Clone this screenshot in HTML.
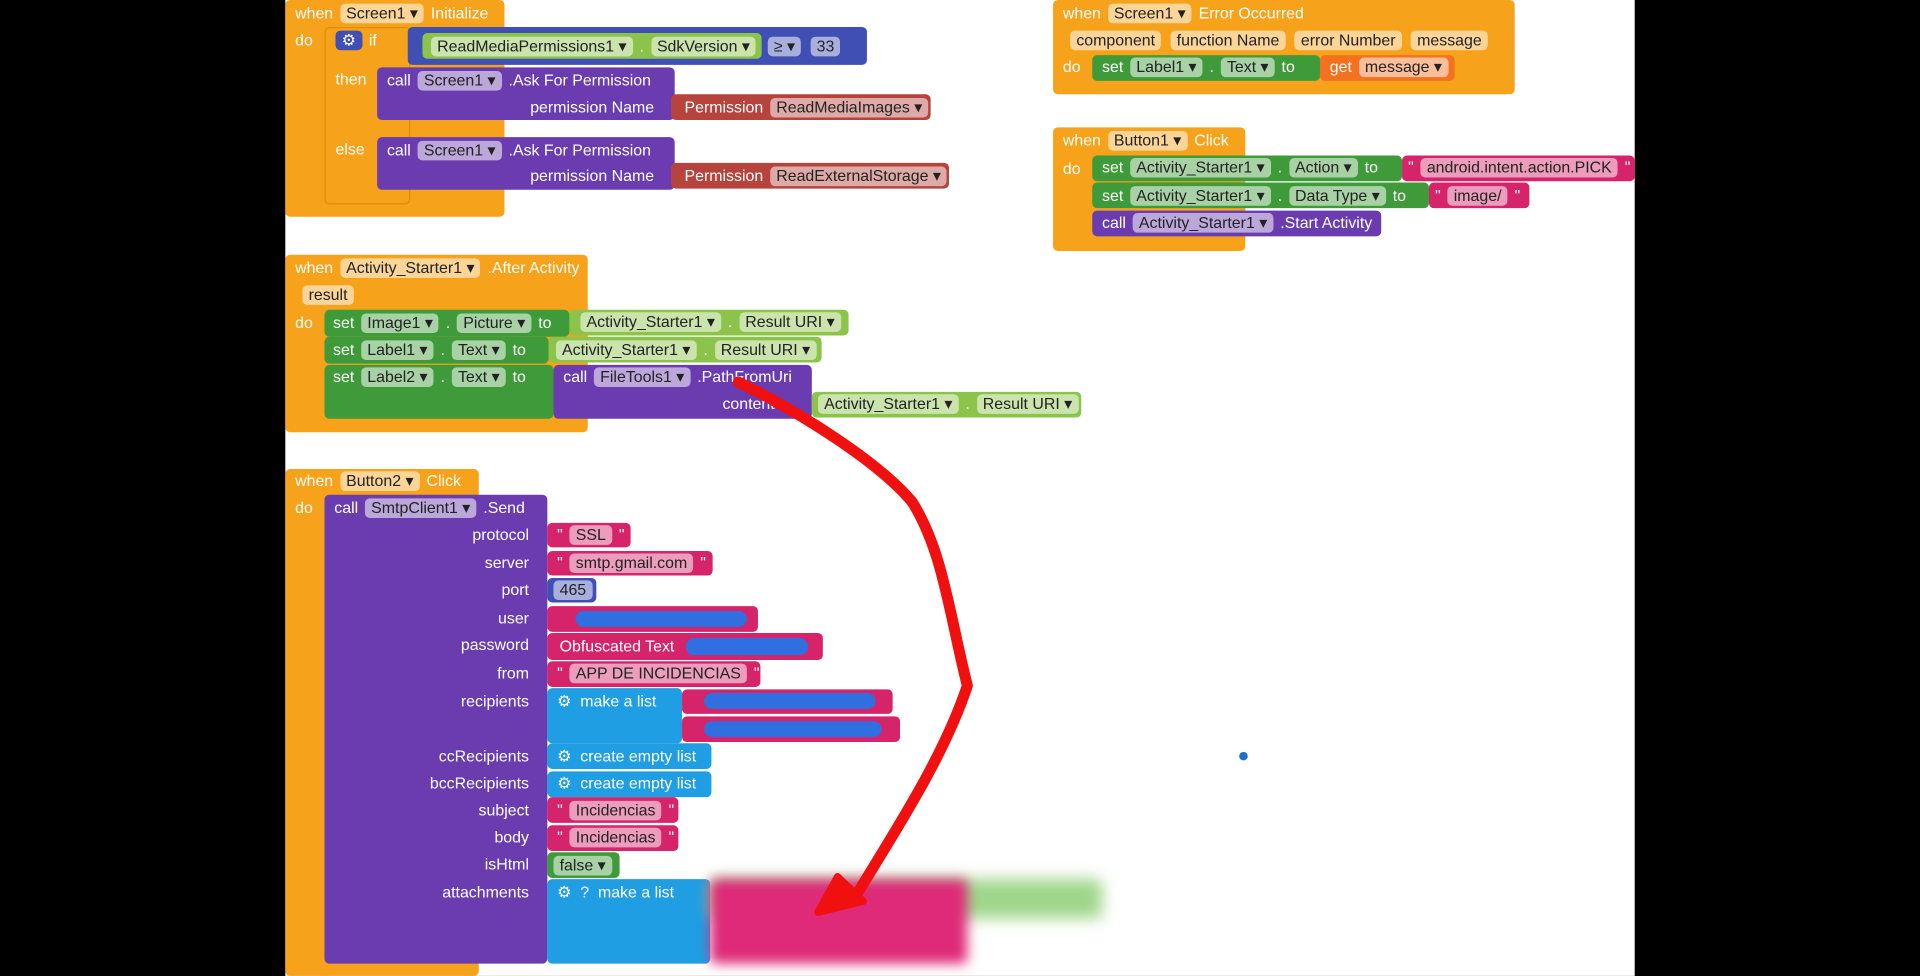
<!DOCTYPE html>
<html><head><meta charset="utf-8"><style>
html,body{margin:0;padding:0;background:#000;overflow:hidden}
#s{position:absolute;left:0;top:0;width:1568px;height:797px;transform:scale(1.22449);transform-origin:0 0;background:#000}
#w{position:absolute;left:233px;top:0;width:1102px;height:797px;background:#fff}
.b{position:absolute;box-sizing:border-box;border-radius:4px;font:13px "Liberation Sans",sans-serif;color:#fff;white-space:nowrap;line-height:20px}
.o{background:#f7a21b}.p{background:#6a3cb0}.g{background:#3f9b3a}.lg{background:#8cc34a}.pk{background:#d6246a}.r{background:#b7433d}.bl{background:#1f9ee3}.db{background:#3f4fb3}
.t{position:absolute;font:13px "Liberation Sans",sans-serif;color:#fff;white-space:nowrap;line-height:20px}
.lb{position:absolute;right:1136px;font:13px "Liberation Sans",sans-serif;color:#fff;white-space:nowrap;line-height:20px;text-align:right}
.d{display:inline-block;background:rgba(255,255,255,.55);color:#222;border-radius:4px;padding:0 5px;line-height:16px;margin:0 2px}
</style></head><body><div id="s"><div id="w"></div>

<!-- Screen1 Initialize -->
<div class="b o" style="left:233px;top:0;width:179px;height:177px"></div>
<div class="t" style="left:241px;top:1px">when <span class="d">Screen1 ▾</span> Initialize</div>
<div class="t" style="left:241px;top:23px">do</div>
<div class="b o" style="left:265px;top:22px;width:70px;height:145px;border:1px solid #e08c00"></div>
<div class="t" style="left:272px;top:23px"><span class="d" style="background:#3f4fb3;color:#fff">⚙</span> if</div>
<div class="t" style="left:274px;top:55px">then</div>
<div class="t" style="left:274px;top:112px">else</div>
<div class="b db" style="left:333px;top:22px;width:375px;height:31px"></div>
<div class="b lg" style="left:345px;top:27px;width:277px;height:21px"></div>
<div class="t" style="left:350px;top:28px"><span class="d">ReadMediaPermissions1 ▾</span> . <span class="d">SdkVersion ▾</span></div>
<div class="t" style="left:625px;top:28px"><span class="d">≥ ▾</span> <span class="d">33</span></div>
<div class="b p" style="left:308px;top:55px;width:243px;height:43px"></div>
<div class="t" style="left:316px;top:56px">call <span class="d">Screen1 ▾</span> .Ask For Permission</div>
<div class="t" style="left:433px;top:78px">permission Name</div>
<div class="b r" style="left:548px;top:77px;width:212px;height:21px"></div>
<div class="t" style="left:559px;top:78px">Permission <span class="d">ReadMediaImages ▾</span></div>
<div class="b p" style="left:308px;top:112px;width:243px;height:43px"></div>
<div class="t" style="left:316px;top:113px">call <span class="d">Screen1 ▾</span> .Ask For Permission</div>
<div class="t" style="left:433px;top:134px">permission Name</div>
<div class="b r" style="left:548px;top:133px;width:227px;height:21px"></div>
<div class="t" style="left:559px;top:134px">Permission <span class="d">ReadExternalStorage ▾</span></div>

<!-- Error Occurred -->
<div class="b o" style="left:860px;top:0;width:377px;height:77px"></div>
<div class="t" style="left:868px;top:1px">when <span class="d">Screen1 ▾</span> Error Occurred</div>
<div class="t" style="left:872px;top:23px"><span class="d">component</span> <span class="d">function Name</span> <span class="d">error Number</span> <span class="d">message</span></div>
<div class="t" style="left:868px;top:45px">do</div>
<div class="b g" style="left:892px;top:45px;width:186px;height:21px"></div>
<div class="t" style="left:900px;top:45px">set <span class="d">Label1 ▾</span> . <span class="d">Text ▾</span> to</div>
<div class="b" style="left:1078px;top:45px;width:110px;height:21px;background:#f4711f"></div>
<div class="t" style="left:1086px;top:45px">get <span class="d">message ▾</span></div>

<!-- Button1 Click -->
<div class="b o" style="left:860px;top:104px;width:157px;height:101px"></div>
<div class="t" style="left:868px;top:105px">when <span class="d">Button1 ▾</span> Click</div>
<div class="t" style="left:868px;top:128px">do</div>
<div class="b g" style="left:892px;top:127px;width:253px;height:21px"></div>
<div class="t" style="left:900px;top:127px">set <span class="d">Activity_Starter1 ▾</span> . <span class="d">Action ▾</span> to</div>
<div class="b pk" style="left:1145px;top:127px;width:190px;height:21px"></div>
<div class="t" style="left:1150px;top:127px">" <span class="d">android.intent.action.PICK</span> "</div>
<div class="b g" style="left:892px;top:149px;width:275px;height:21px"></div>
<div class="t" style="left:900px;top:150px">set <span class="d">Activity_Starter1 ▾</span> . <span class="d">Data Type ▾</span> to</div>
<div class="b pk" style="left:1167px;top:149px;width:82px;height:21px"></div>
<div class="t" style="left:1172px;top:150px">" <span class="d">image/</span> "</div>
<div class="b p" style="left:892px;top:172px;width:236px;height:21px"></div>
<div class="t" style="left:900px;top:172px">call <span class="d">Activity_Starter1 ▾</span> .Start Activity</div>

<!-- After Activity -->
<div class="b o" style="left:233px;top:208px;width:247px;height:145px"></div>
<div class="t" style="left:241px;top:209px">when <span class="d">Activity_Starter1 ▾</span> .After Activity</div>
<div class="t" style="left:245px;top:231px"><span class="d">result</span></div>
<div class="t" style="left:241px;top:254px">do</div>
<div class="b g" style="left:265px;top:253px;width:200px;height:22px"></div>
<div class="t" style="left:272px;top:254px">set <span class="d">Image1 ▾</span> . <span class="d">Picture ▾</span> to</div>
<div class="b lg" style="left:465px;top:253px;width:228px;height:21px"></div>
<div class="t" style="left:472px;top:253px"><span class="d">Activity_Starter1 ▾</span> . <span class="d">Result URI ▾</span></div>
<div class="b g" style="left:265px;top:275px;width:183px;height:22px"></div>
<div class="t" style="left:272px;top:276px">set <span class="d">Label1 ▾</span> . <span class="d">Text ▾</span> to</div>
<div class="b lg" style="left:448px;top:275px;width:223px;height:21px"></div>
<div class="t" style="left:452px;top:276px"><span class="d">Activity_Starter1 ▾</span> . <span class="d">Result URI ▾</span></div>
<div class="b g" style="left:265px;top:298px;width:187px;height:44px"></div>
<div class="t" style="left:272px;top:298px">set <span class="d">Label2 ▾</span> . <span class="d">Text ▾</span> to</div>
<div class="b p" style="left:452px;top:298px;width:211px;height:44px"></div>
<div class="t" style="left:460px;top:298px">call <span class="d">FileTools1 ▾</span> .PathFromUri</div>
<div class="t" style="left:590px;top:320px">content</div>
<div class="b lg" style="left:663px;top:320px;width:220px;height:21px"></div>
<div class="t" style="left:666px;top:320px"><span class="d">Activity_Starter1 ▾</span> . <span class="d">Result URI ▾</span></div>

<!-- Button2 Click -->
<div class="b o" style="left:233px;top:383px;width:158px;height:414px"></div>
<div class="t" style="left:241px;top:383px">when <span class="d">Button2 ▾</span> Click</div>
<div class="t" style="left:241px;top:405px">do</div>
<div class="b p" style="left:265px;top:404px;width:182px;height:383px"></div>
<div class="t" style="left:273px;top:405px">call <span class="d">SmtpClient1 ▾</span> .Send</div>
<div class="lb" style="top:427px">protocol</div>
<div class="lb" style="top:450px">server</div>
<div class="lb" style="top:472px">port</div>
<div class="lb" style="top:495px">user</div>
<div class="lb" style="top:517px">password</div>
<div class="lb" style="top:540px">from</div>
<div class="lb" style="top:563px">recipients</div>
<div class="lb" style="top:608px">ccRecipients</div>
<div class="lb" style="top:630px">bccRecipients</div>
<div class="lb" style="top:652px">subject</div>
<div class="lb" style="top:674px">body</div>
<div class="lb" style="top:696px">isHtml</div>
<div class="lb" style="top:719px">attachments</div>
<div class="b pk" style="left:447px;top:427px;width:68px;height:20px"></div>
<div class="t" style="left:455px;top:427px">" <span class="d">SSL</span> "</div>
<div class="b pk" style="left:447px;top:450px;width:135px;height:20px"></div>
<div class="t" style="left:455px;top:450px">" <span class="d">smtp.gmail.com</span> "</div>
<div class="b db" style="left:447px;top:472px;width:40px;height:20px"></div>
<div class="t" style="left:450px;top:472px"><span class="d">465</span></div>
<div class="b pk" style="left:447px;top:495px;width:172px;height:21px"></div>
<div class="b" style="left:470px;top:499px;width:140px;height:13px;background:#2f6fe0;border-radius:7px"></div>
<div class="b pk" style="left:447px;top:517px;width:225px;height:22px"></div>
<div class="t" style="left:457px;top:518px">Obfuscated Text</div>
<div class="b" style="left:560px;top:521px;width:100px;height:14px;background:#2f6fe0;border-radius:7px"></div>
<div class="b pk" style="left:447px;top:540px;width:174px;height:21px"></div>
<div class="t" style="left:455px;top:540px">" <span class="d">APP DE INCIDENCIAS</span> "</div>
<div class="b bl" style="left:447px;top:562px;width:110px;height:45px"></div>
<div class="t" style="left:455px;top:563px">⚙ &nbsp;make a list</div>
<div class="b pk" style="left:557px;top:563px;width:172px;height:20px"></div>
<div class="b" style="left:575px;top:566px;width:140px;height:13px;background:#2f6fe0;border-radius:7px"></div>
<div class="b pk" style="left:557px;top:585px;width:178px;height:21px"></div>
<div class="b" style="left:575px;top:589px;width:145px;height:13px;background:#2f6fe0;border-radius:7px"></div>
<div class="b bl" style="left:447px;top:607px;width:134px;height:21px"></div>
<div class="t" style="left:455px;top:608px">⚙ &nbsp;create empty list</div>
<div class="b bl" style="left:447px;top:630px;width:134px;height:21px"></div>
<div class="t" style="left:455px;top:630px">⚙ &nbsp;create empty list</div>
<div class="b pk" style="left:447px;top:651px;width:107px;height:21px"></div>
<div class="t" style="left:455px;top:652px">" <span class="d">Incidencias</span> "</div>
<div class="b pk" style="left:447px;top:674px;width:107px;height:21px"></div>
<div class="t" style="left:455px;top:674px">" <span class="d">Incidencias</span> "</div>
<div class="b g" style="left:447px;top:696px;width:59px;height:21px"></div>
<div class="t" style="left:450px;top:697px"><span class="d">false ▾</span></div>
<div class="b bl" style="left:447px;top:718px;width:133px;height:69px"></div>
<div class="t" style="left:455px;top:719px">⚙ &nbsp;? &nbsp;make a list</div>
<div class="b" style="left:580px;top:718px;width:320px;height:32px;background:#9fd68a;filter:blur(6px)"></div>
<div class="b" style="left:580px;top:718px;width:210px;height:69px;background:#de2a78;filter:blur(5px)"></div>

<div class="b" style="left:1012px;top:614px;width:7px;height:7px;border-radius:50%;background:#1a6fd6"></div>

<svg style="position:absolute;left:0;top:0" width="1568" height="797">
<path d="M603 312 C660 340 720 380 745 410 C770 450 775 500 790 560 C770 620 730 680 700 730" fill="none" stroke="#f01010" stroke-width="9" stroke-linecap="round" stroke-linejoin="round"/>
<path d="M668 745 L705 736 L684 716 Z" fill="#f01010" stroke="#f01010" stroke-width="6" stroke-linejoin="round"/>
</svg>
</div></body></html>
